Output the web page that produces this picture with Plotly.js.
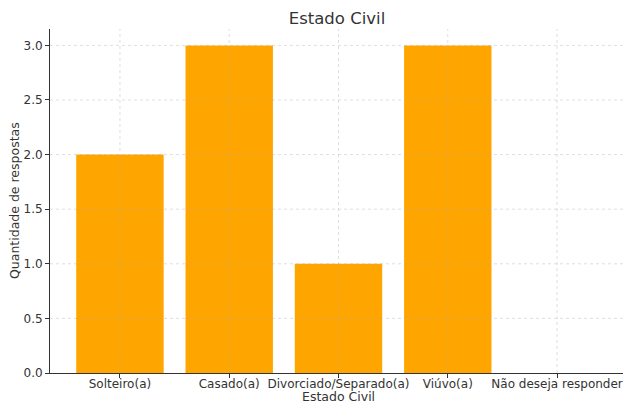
<!DOCTYPE html>
<html>
<head>
<meta charset="utf-8">
<script src="https://cdn.plot.ly/plotly-3.0.1.min.js"></script>
<style>
html,body{margin:0;padding:0;overflow:hidden;background:#fff;}
#chart{width:628px;height:404px;}
</style>
</head>
<body>
<div id="chart"></div>
<script>
const categories = ["Solteiro(a)", "Casado(a)", "Divorciado/Separado(a)", "Viúvo(a)", "Não deseja responder"];
const counts = [2, 3, 1, 3, 0];
const yTicks = [0, 0.5, 1.0, 1.5, 2.0, 2.5, 3.0];
const yTickLabels = ["0.0", "0.5", "1.0", "1.5", "2.0", "2.5", "3.0"];
const chartTitle = "Estado Civil";
const xTitle = "Estado Civil";
const yTitle = "Quantidade de respostas";

const gridStyle = {color: "rgba(175,175,175,0.5)", width: 0.8, dash: "dot"};
const shapes = [];
categories.forEach((c, i) => {
  shapes.push({type: "line", xref: "x", yref: "paper", x0: i, x1: i, y0: 0, y1: 1, layer: "above", line: gridStyle});
});
yTicks.slice(1).forEach(v => {
  shapes.push({type: "line", xref: "paper", yref: "y", x0: 0, x1: 1, y0: v, y1: v, layer: "above", line: gridStyle});
});

const trace = {
  type: "bar",
  x: categories,
  y: counts,
  marker: {color: "#FFA500", line: {width: 0}},
  width: 0.8,
  hoverinfo: "x+y"
};

const fam = "DejaVu Sans, sans-serif";
const txt = "#333333";

const layout = {
  width: 628,
  height: 404,
  margin: {l: 50, r: 1, t: 29, b: 31, pad: 0},
  paper_bgcolor: "#ffffff",
  plot_bgcolor: "#ffffff",
  font: {family: fam, color: txt, size: 12},
  showlegend: false,
  title: {
    text: chartTitle,
    font: {family: fam, size: 16.5, color: txt},
    xref: "container",
    x: 337 / 628,
    xanchor: "center",
    yref: "container",
    y: 1 - 18 / 404,
    yanchor: "middle"
  },
  xaxis: {
    type: "category",
    range: [-0.64, 4.64],
    showgrid: false,
    zeroline: false,
    showline: true,
    linecolor: txt,
    linewidth: 1,
    ticks: "outside",
    ticklen: 4,
    tickcolor: txt,
    ticklabelstandoff: -4,
    tickfont: {family: fam, size: 12, color: txt},
    fixedrange: true
  },
  yaxis: {
    range: [0, 3.15],
    tickvals: yTicks,
    ticktext: yTickLabels,
    showgrid: false,
    zeroline: false,
    showline: true,
    linecolor: txt,
    linewidth: 1,
    ticks: "outside",
    ticklen: 4,
    tickcolor: txt,
    tickfont: {family: fam, size: 12, color: txt},
    fixedrange: true
  },
  annotations: [
    {text: xTitle, xref: "x", yref: "paper", x: 2, y: 0, xanchor: "center", yanchor: "bottom",
     yshift: -32, borderpad: 0, showarrow: false, font: {family: fam, size: 12.5, color: txt}},
    {text: yTitle, xref: "paper", yref: "paper", x: 0, y: 0.5, xanchor: "center", yanchor: "middle",
     xshift: -36, textangle: -90, showarrow: false, font: {family: fam, size: 12.5, color: txt}}
  ],
  shapes: shapes
};

Plotly.newPlot("chart", [trace], layout, {displayModeBar: false, staticPlot: true});
</script>
</body>
</html>
